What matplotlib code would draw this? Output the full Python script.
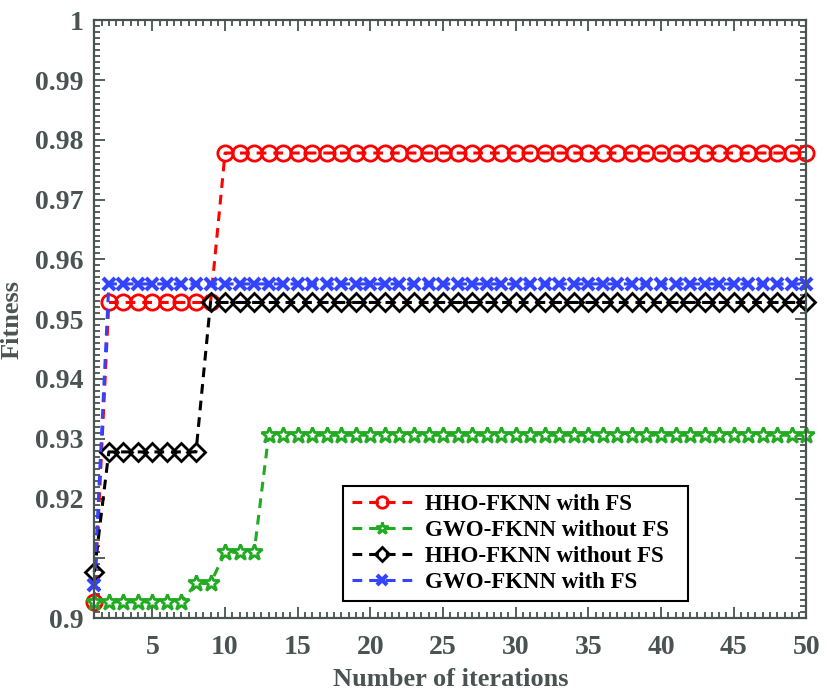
import matplotlib
matplotlib.use("Agg")
import matplotlib.pyplot as plt
import numpy as np
from matplotlib.ticker import MultipleLocator, FixedLocator

plt.rcParams['font.family'] = ['Liberation Serif', 'DejaVu Serif']
plt.rcParams['font.weight'] = 'bold'
plt.rcParams['lines.scale_dashes'] = False

iterations = list(range(1, 51))
hho_fs = [0.9027] + [0.9528] * 8 + [0.9778] * 41
gwo_nofs = [0.9027] * 7 + [0.9058] * 2 + [0.9110] * 3 + [0.9306] * 38
hho_nofs = [0.9077] + [0.9278] * 7 + [0.9528] * 42
gwo_fs = [0.9055] + [0.9559] * 49

labels = ['HHO-FKNN with FS', 'GWO-FKNN without FS', 'HHO-FKNN without FS', 'GWO-FKNN with FS']
y_ticks = [0.9, 0.91, 0.92, 0.93, 0.94, 0.95, 0.96, 0.97, 0.98, 0.99, 1.0]
y_ticklabels = ['0.9', '', '0.92', '0.93', '0.94', '0.95', '0.96', '0.97', '0.98', '0.99', '1']
x_ticks = [5, 10, 15, 20, 25, 30, 35, 40, 45, 50]

gray = '#4a5252'

fig = plt.figure(figsize=(8.27, 7.0), dpi=100)
ax = fig.add_axes([0.114, 0.117, 0.861, 0.854])

dash = (7, 5)
lw = 2.2
ax.plot(iterations, hho_fs, color='#ff0000', lw=lw, dashes=dash, marker='o', ms=11,
        mfc='none', mec='#ff0000', mew=2.0, label=labels[0], clip_on=False)
ax.plot(iterations, gwo_nofs, color='#22aa22', lw=lw, dashes=dash, marker='*', ms=12,
        mfc='white', mec='#22aa22', mew=2.0, label=labels[1], clip_on=False)
ax.plot(iterations, hho_nofs, color='black', lw=lw, dashes=dash, marker='D', ms=9.5,
        mfc='none', mec='black', mew=2.0, label=labels[2], clip_on=False)
ax.plot(iterations, gwo_fs, color='#3344ff', lw=lw, dashes=dash, marker='x', ms=9,
        mec='#3344ff', mew=3.0, label=labels[3], clip_on=False)

ax.set_xlim(1, 50)
ax.set_ylim(0.9, 1.0)
ax.set_xticks(x_ticks)
ax.xaxis.set_minor_locator(MultipleLocator(0.5))
ax.yaxis.set_major_locator(FixedLocator(y_ticks))
ax.set_yticklabels(y_ticklabels)
ax.yaxis.set_minor_locator(MultipleLocator(0.001))

ax.tick_params(which='both', direction='in', top=True, right=True, colors=gray,
               labelcolor=gray, width=1.3)
ax.tick_params(which='major', length=8, labelsize=20)
ax.tick_params(axis='x', which='major', pad=12)
ax.tick_params(axis='y', which='major', pad=8)
ax.tick_params(which='minor', length=4)
for s in ax.spines.values():
    s.set_color(gray)
    s.set_linewidth(1.6)

ax.set_xlabel('Number of iterations', fontsize=19, fontweight='bold', color=gray, labelpad=6)
ax.set_ylabel('Fitness', fontsize=19, fontweight='bold', color=gray, labelpad=8)

leg = ax.legend(loc='lower left', bbox_to_anchor=(0.35, 0.028, 0.484, 0.198), mode='expand',
                fancybox=False, framealpha=1, edgecolor='black', fontsize=16.5,
                handlelength=2.7, borderpad=0.35, labelspacing=0.22, handletextpad=0.5,
                borderaxespad=0, markerscale=0.75)
leg.get_frame().set_linewidth(1.5)

fig.savefig('out.png', dpi=100)
